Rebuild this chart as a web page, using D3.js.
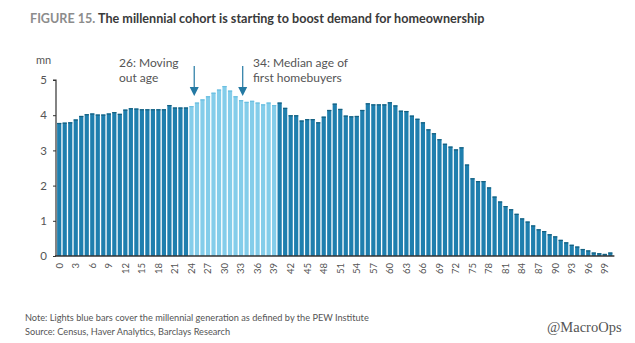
<!DOCTYPE html>
<html>
<head>
<meta charset="utf-8">
<script src="https://cdn.jsdelivr.net/npm/d3@7"></script>
<style>
  html, body { margin: 0; padding: 0; background: #fff; }
  svg { display: block; }
</style>
</head>
<body>
<svg id="chart" width="635" height="343"></svg>
<script>
// US population by single year of age, millions (ages 0–100)
const ages = d3.range(0, 101);
const population = [
  3.78, 3.79, 3.80, 3.88, 3.98, 4.03, 4.05, 4.02, 4.02, 4.05,
  4.09, 4.04, 4.16, 4.20, 4.19, 4.17, 4.17, 4.17, 4.17, 4.17,
  4.29, 4.22, 4.22, 4.22, 4.26, 4.36, 4.45, 4.54, 4.64, 4.73,
  4.83, 4.70, 4.54, 4.43, 4.38, 4.41, 4.36, 4.31, 4.36, 4.29,
  4.36, 4.21, 4.00, 4.00, 3.85, 3.89, 3.89, 3.80, 3.96, 4.15,
  4.33, 4.18, 3.99, 3.97, 3.98, 4.15, 4.34, 4.31, 4.31, 4.31,
  4.37, 4.28, 4.13, 4.12, 3.99, 3.90, 3.80, 3.60, 3.49, 3.32,
  3.19, 3.11, 3.03, 3.09, 2.60, 2.21, 2.13, 2.13, 1.95, 1.69,
  1.55, 1.42, 1.33, 1.20, 1.07, 0.98, 0.87, 0.76, 0.71, 0.62,
  0.56, 0.46, 0.39, 0.32, 0.27, 0.20, 0.16, 0.10, 0.08, 0.06,
  0.10
];
// Millennial generation (PEW definition) by age
const millennialAges = [24, 39];
const yTicks = [0, 1, 2, 3, 4, 5];
const xTickAges = d3.range(0, 100, 3);
const annotations = [
  { at: 24.5, lines: ["26: Moving", "out age"], textX: 119 },
  { at: 33.3, lines: ["34: Median age of", "first homebuyers"], textX: 253 }
];

const colDark = "#1f7fae";
const colDarkTop = "#16607f";
const colLight = "#84cdea";
const colLightTop = "#6bbfe0";

const svg = d3.select("#chart");
const plot = { left: 57, right: 612, top: 80, bottom: 256 };

const x = d3.scaleBand()
  .domain(ages)
  .range([plot.left, plot.left + 5.5 * ages.length])
  .paddingInner(0.24)
  .paddingOuter(0.02);

const y = d3.scaleLinear().domain([0, 5]).range([plot.bottom, plot.top]);

const isMillennial = a => a >= millennialAges[0] && a <= millennialAges[1];

// Title
const title = svg.append("text")
  .attr("x", 30).attr("y", 23)
  .attr("font-family", "Lato, 'Open Sans', sans-serif")
  .attr("font-size", 12.6)
  .attr("font-weight", 700);
title.append("tspan").attr("fill", "#8c8c8c").text("FIGURE 15. ");
title.append("tspan").attr("fill", "#3a3a3a").text("The millennial cohort is starting to boost demand for homeownership");

// Bars
const bars = svg.append("g");
bars.selectAll("rect.bar")
  .data(ages)
  .join("rect")
  .attr("class", "bar")
  .attr("x", d => x(d))
  .attr("width", x.bandwidth())
  .attr("y", d => y(population[d]))
  .attr("height", d => y(0) - y(population[d]))
  .attr("fill", d => isMillennial(d) ? colLight : colDark);
// darker cap on each bar top
bars.selectAll("rect.cap")
  .data(ages)
  .join("rect")
  .attr("class", "cap")
  .attr("x", d => x(d))
  .attr("width", x.bandwidth())
  .attr("y", d => y(population[d]))
  .attr("height", 1.2)
  .attr("fill", d => isMillennial(d) ? colLightTop : colDarkTop);

// Y axis
const yAxis = d3.axisLeft(y).tickValues(yTicks).tickSize(3).tickPadding(6).tickFormat(d3.format("d"));
const gy = svg.append("g").attr("transform", `translate(${plot.left - 1},0)`).call(yAxis);
gy.select(".domain").attr("stroke", "#333").attr("stroke-width", 1.2).attr("d", `M-3,${y(5)}H0V${y(0)}`);
gy.selectAll(".tick line").attr("stroke", "#333");
gy.selectAll(".tick text")
  .attr("fill", "#555")
  .attr("font-family", "Lato, 'Open Sans', sans-serif")
  .attr("font-size", 11.5);

svg.append("text")
  .attr("x", 36).attr("y", 64)
  .attr("fill", "#555")
  .attr("font-family", "Lato, 'Open Sans', sans-serif")
  .attr("font-size", 11)
  .text("mn");

// X axis
const xAxis = d3.axisBottom(x).tickValues(xTickAges).tickSize(0).tickPadding(0);
const gx = svg.append("g").attr("transform", `translate(0,${plot.bottom})`).call(xAxis);
gx.select(".domain").attr("stroke", "#333").attr("stroke-width", 1.6)
  .attr("d", `M${plot.left - 2},0H${x(100) + x.bandwidth() + 2}`);
gx.selectAll(".tick text")
  .attr("fill", "#555")
  .attr("font-family", "Lato, 'Open Sans', sans-serif")
  .attr("font-size", 9.5)
  .attr("text-anchor", "end")
  .attr("dy", "0.35em")
  .attr("transform", "translate(0,7) rotate(-90)")
  .attr("x", 0).attr("y", 0);

// Annotations with arrows
const bandCenter = a => {
  const i = Math.floor(a), f = a - i;
  return x(i) + x.bandwidth() / 2 + f * x.step();
};
const ann = svg.append("g").attr("font-family", "Lato, 'Open Sans', sans-serif").attr("font-size", 12).attr("fill", "#555");
annotations.forEach(a => {
  const t = ann.append("text").attr("x", a.textX).attr("y", 67);
  a.lines.forEach((ln, i) => t.append("tspan").attr("x", a.textX).attr("dy", i === 0 ? 0 : 15).text(ln));
  const cx = bandCenter(a.at);
  ann.append("line")
    .attr("x1", cx).attr("x2", cx).attr("y1", 66).attr("y2", 89)
    .attr("stroke", "#2479a3").attr("stroke-width", 1.2);
  ann.append("path")
    .attr("d", `M${cx - 4.5},87 L${cx + 4.5},87 L${cx},96 Z`)
    .attr("fill", "#2479a3");
});

// Footnotes
const foot = svg.append("g").attr("font-family", "Lato, 'Open Sans', sans-serif").attr("font-size", 9.2).attr("fill", "#555");
foot.append("text").attr("x", 25).attr("y", 321).text("Note: Lights blue bars cover the millennial generation as defined by the PEW Institute");
foot.append("text").attr("x", 25).attr("y", 335).text("Source: Census, Haver Analytics, Barclays Research");

svg.append("text")
  .attr("x", 547).attr("y", 332)
  .attr("fill", "#555")
  .attr("font-family", "'Liberation Serif', 'Times New Roman', serif")
  .attr("font-size", 14.5)
  .text("@MacroOps");
</script>
</body>
</html>
